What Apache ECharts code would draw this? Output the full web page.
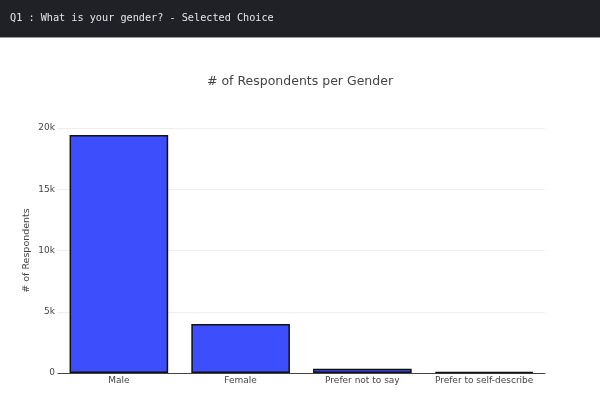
<!DOCTYPE html>
<html><head><meta charset="utf-8">
<script src="https://cdn.jsdelivr.net/npm/echarts@6/dist/echarts.min.js"></script>
<style>html,body{margin:0;padding:0;background:#fff}#c{width:600px;height:394px}</style>
</head><body><div id="c"></div>
<script>
const header = "Q1 : What is your gender? - Selected Choice";
const chartTitle = "# of Respondents per Gender";
const yName = "# of Respondents";
const categories = ["Male", "Female", "Prefer not to say", "Prefer to self-describe"];
const respondents = [19430, 4010, 340, 79];

const chart = echarts.init(document.getElementById('c'), null, {renderer: 'canvas'});
chart.setOption({
  backgroundColor: '#fff',
  animation: false,
  graphic: [
    {type: 'rect', left: 0, top: 0, shape: {width: 600, height: 37}, style: {fill: '#202127'}},
    {type: 'rect', left: 0, top: 37, shape: {width: 600, height: 1}, style: {fill: '#9a9a9a'}},
    {type: 'text', left: 10, top: 13, style: {text: header, fill: '#e6e6e6', font: '10.2px "DejaVu Sans Mono", monospace'}}
  ],
  title: {text: chartTitle, left: 'center', top: 70,
    textStyle: {fontFamily: 'DejaVu Sans', fontSize: 12.5, fontWeight: 'normal', color: '#444'}},
  grid: {left: 58, right: 55, top: 128, bottom: 21},
  xAxis: {type: 'category', data: categories,
    axisLine: {lineStyle: {color: '#444', width: 1}}, axisTick: {show: false},
    axisLabel: {interval: 0, color: '#444', fontFamily: 'DejaVu Sans', fontSize: 9, margin: 3}},
  yAxis: {type: 'value', min: 0, max: 20000, interval: 5000, name: yName,
    nameLocation: 'middle', nameGap: 26, nameMoveOverlap: false,
    nameTextStyle: {color: '#444', fontFamily: 'DejaVu Sans', fontSize: 9.5},
    axisLine: {show: false}, axisTick: {show: false},
    splitLine: {lineStyle: {color: '#eeeeee'}},
    axisLabel: {color: '#444', fontFamily: 'DejaVu Sans', fontSize: 9, margin: 3,
      formatter: v => v === 0 ? '0' : (v/1000) + 'k'}},
  series: [{type: 'bar', data: respondents, barCategoryGap: '19%',
    itemStyle: {color: '#3d4efd', borderColor: '#111', borderWidth: 1.5}}]
});
</script></body></html>
